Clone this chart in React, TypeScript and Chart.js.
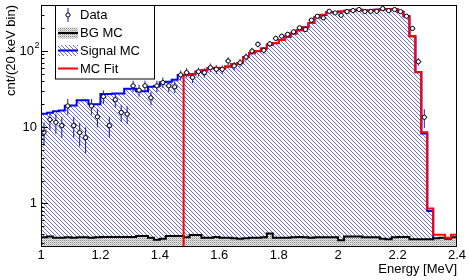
import React, { useEffect, useRef } from "react";
import { Chart, registerables } from "chart.js";

Chart.register(...registerables);

// ---------------- data ----------------
const binLowEdges = [
  1.0, 1.02, 1.04, 1.06, 1.08, 1.1, 1.12, 1.14, 1.16, 1.18,
  1.2, 1.22, 1.24, 1.26, 1.28, 1.3, 1.32, 1.34, 1.36, 1.38,
  1.4, 1.42, 1.44, 1.46, 1.48, 1.5, 1.52, 1.54, 1.56, 1.58,
  1.6, 1.62, 1.64, 1.66, 1.68, 1.7, 1.72, 1.74, 1.76, 1.78,
  1.8, 1.82, 1.84, 1.86, 1.88, 1.9, 1.92, 1.94, 1.96, 1.98,
  2.0, 2.02, 2.04, 2.06, 2.08, 2.1, 2.12, 2.14, 2.16, 2.18,
  2.2, 2.22, 2.24, 2.26, 2.28, 2.3, 2.32, 2.34, 2.36, 2.38,
];
const binWidth = 0.02;
const histUpperEdge = 2.4;

const dataCounts: (number | null)[] = [
  8.6, 12.6, 11.6, 10.5, 19.0, 10.5, 8.5, 7.3, 19.0, 13.7,
  25.2, 10.5, 22.9, 15.6, 14.9, 34.9, 30.6, 34.9, 24.3, 34.9,
  38.5, 34.9, 33.8, 48.5, 52.0, 44.8, 53.5, 52.0, 60.4, 57.5,
  57.5, 73.8, 63.6, 70.2, 83.2, 99.7, 122, 102, 124, 146,
  156, 165, 178, 201, 191, 253, 285, 271, 331, 315,
  293, 328, 338, 349, 328, 331, 331, 359, 338, 349,
  328, 285, 197, 72.3, 13.5, null, null, null, null, null,
];
const dataErrors: (number | null)[] = [
  2.9, 3.5, 3.4, 3.2, 4.4, 3.2, 2.9, 2.7, 4.4, 3.7,
  5.0, 3.2, 4.8, 3.9, 3.9, 5.9, 5.5, 5.9, 4.9, 5.9,
  6.2, 5.9, 5.8, 7.0, 7.2, 6.7, 7.3, 7.2, 7.8, 7.6,
  7.6, 8.6, 8.0, 8.4, 9.1, 10.0, 11.0, 10.1, 11.1, 12.1,
  12.5, 12.8, 13.3, 14.2, 13.8, 15.9, 16.9, 16.5, 18.2, 17.7,
  17.1, 18.1, 18.4, 18.7, 18.1, 18.2, 18.2, 18.9, 18.4, 18.7,
  18.1, 16.9, 14.0, 8.5, 3.7, null, null, null, null, null,
];
const bgMC = [
  0.36, 0.37, 0.355, 0.355, 0.36, 0.355, 0.36, 0.36, 0.355, 0.36,
  0.365, 0.365, 0.365, 0.365, 0.365, 0.365, 0.375, 0.375, 0.355, 0.335,
  0.345, 0.375, 0.375, 0.375, 0.36, 0.385, 0.385, 0.355, 0.355, 0.365,
  0.355, 0.355, 0.35, 0.345, 0.35, 0.355, 0.355, 0.36, 0.405, 0.355,
  0.355, 0.355, 0.36, 0.365, 0.36, 0.355, 0.36, 0.36, 0.36, 0.36,
  0.33, 0.37, 0.37, 0.37, 0.36, 0.36, 0.36, 0.345, 0.34, 0.36,
  0.365, 0.365, 0.34, 0.34, 0.34, 0.34, 0.35, 0.355, 0.345, 0.36,
];
const signalMC = [
  15.0, 15.5, 16.2, 16.5, 19.1, 19.3, 22.5, 22.5, 20.0, 20.0,
  27.3, 27.3, 27.7, 27.7, 32.0, 32.0, 29.5, 29.5, 33.8, 34.8,
  38.8, 39.3, 41.8, 48.5, 48.2, 49.6, 53.5, 55.8, 59.2, 59.8,
  59.2, 62.3, 67.1, 69.2, 82.8, 93.4, 99.3, 107.2, 120.6, 126.2,
  138.6, 153.6, 168.6, 186.6, 204.6, 232.6, 275.6, 296.6, 320.6, 323.6,
  327.6, 335.6, 340.6, 346.6, 337.6, 337.6, 346.6, 351.6, 353.6, 353.6,
  325.6, 284.6, 155.6, 52.6, 8.3, 0.8, 0, 0, 0, 0,
];
const mcFit = [
  0, 0, 0, 0, 0, 0, 0, 0, 0, 0,
  0, 0, 0, 0, 0, 0, 0, 0, 0, 0,
  0, 0, 0, 0, 48.5, 50, 53.9, 56.2, 59.6, 60.2,
  59.6, 62.7, 67.5, 69.6, 83.2, 93.8, 99.7, 107.6, 121, 126.6,
  139, 154, 169, 187, 205, 233, 276, 297, 321, 324,
  328, 336, 341, 347, 338, 338, 347, 352, 354, 354,
  326, 285, 156, 53, 8.6, 0.86, 0.39, 0.39, 0.356, 0.39,
];

const xTickValues = [1, 1.2, 1.4, 1.6, 1.8, 2, 2.2, 2.4];
const xTickLabels = ["1", "1.2", "1.4", "1.6", "1.8", "2", "2.2", "2.4"];
const yTickValues = [1, 10, 100];
const yTickLabels = ["1", "10", "10"];
const yTickExponents = ["", "", "2"];
const legendLabels = ["Data", "BG MC", "Signal MC", "MC Fit"];
const xTitle = "Energy [MeV]";
const yTitle = "cnt/(20 keV bin)";
const yMin = 0.269;
const yMax = 400;

const FONT = '"Liberation Sans", Arial, Helvetica, sans-serif';
const ERR_COLOR = "rgb(40,40,185)";

function makeHatch(): CanvasPattern {
  const c = document.createElement("canvas");
  c.width = 4;
  c.height = 4;
  const g = c.getContext("2d")!;
  g.fillStyle = "#ffffff";
  g.fillRect(0, 0, 4, 4);
  for (let i = 0; i < 4; i++) {
    g.fillStyle = "rgb(105,105,232)";
    g.fillRect(i, i, 1, 1);
  }
  return g.createPattern(c, "repeat")!;
}

function makeDots(): CanvasPattern {
  const c = document.createElement("canvas");
  c.width = 2;
  c.height = 2;
  const g = c.getContext("2d")!;
  g.fillStyle = "#e8e8e8";
  g.fillRect(0, 0, 2, 2);
  g.fillStyle = "#8a8a8a";
  g.fillRect(0, 0, 1, 1);
  g.fillStyle = "#c0c0c0";
  g.fillRect(1, 1, 1, 1);
  return g.createPattern(c, "repeat")!;
}

// histogram contents of 0 sit on the lower edge of the log axis
const onLog = (v: number) => (v > 0 ? v : yMin);

export default function App() {
  const ref = useRef<HTMLCanvasElement>(null);

  useEffect(() => {
    const canvas = ref.current!;
    const hatch = makeHatch();
    const dots = makeDots();

    const step = (vals: number[]) => [
      ...binLowEdges.map((x, i) => ({ x, y: onLog(vals[i]) })),
      { x: histUpperEdge, y: onLog(vals[vals.length - 1]) },
    ];
    const dataPts = binLowEdges.map((x, i) => ({ x: x + binWidth / 2, y: dataCounts[i] }));

    const rootPlugin = {
      id: "rootStyle",
      beforeDatasetDraw(chart: any, args: any) {
        if (args.index !== 0) return;
        const ctx = chart.ctx as CanvasRenderingContext2D;
        const xs = chart.scales.x;
        const ys = chart.scales.y;
        const ca = chart.chartArea;
        ctx.save();
        ctx.beginPath();
        ctx.rect(ca.left, ca.top, ca.right - ca.left, ca.bottom - ca.top);
        ctx.clip();
        ctx.strokeStyle = ERR_COLOR;
        ctx.lineWidth = 1.1;
        ctx.beginPath();
        dataCounts.forEach((v, i) => {
          if (v == null) return;
          const e = dataErrors[i] as number;
          const xc = xs.getPixelForValue(binLowEdges[i] + binWidth / 2);
          const yc = ys.getPixelForValue(v);
          const yt = ys.getPixelForValue(v + e);
          const yb = ys.getPixelForValue(Math.max(v - e, yMin));
          ctx.moveTo(xc, yt);
          ctx.lineTo(xc, yb);
          const xl = xs.getPixelForValue(binLowEdges[i]);
          const xr = xs.getPixelForValue(binLowEdges[i] + binWidth);
          ctx.moveTo(xl, yc);
          ctx.lineTo(xr, yc);
        });
        ctx.stroke();
        ctx.restore();
      },
      afterDatasetsDraw(chart: any) {
        const ctx = chart.ctx as CanvasRenderingContext2D;
        const ys = chart.scales.y;
        const ca = chart.chartArea;
        ctx.save();
        ctx.strokeStyle = "#000";
        ctx.lineWidth = 1;
        ctx.strokeRect(ca.left + 0.5, ca.top + 0.5, ca.right - ca.left - 1, ca.bottom - ca.top - 1);
        ctx.beginPath();
        for (let d = -1; d <= 2; d++) {
          for (let m = 1; m <= 9; m++) {
            const v = m * Math.pow(10, d);
            if (v < yMin || v > yMax) continue;
            const y = Math.round(ys.getPixelForValue(v)) + 0.5;
            const len = m === 1 ? 7 : 3.5;
            ctx.moveTo(ca.left, y);
            ctx.lineTo(ca.left + len, y);
          }
        }
        ctx.stroke();
        ctx.restore();
      },
      afterDraw(chart: any) {
        const ctx = chart.ctx as CanvasRenderingContext2D;
        const xs = chart.scales.x;
        const ys = chart.scales.y;
        const ca = chart.chartArea;
        ctx.save();
        ctx.fillStyle = "#000";
        ctx.font = `13px ${FONT}`;
        ctx.textAlign = "center";
        ctx.textBaseline = "middle";
        xTickValues.forEach((v, i) => {
          ctx.fillText(xTickLabels[i], xs.getPixelForValue(v), 255);
        });
        yTickValues.forEach((v, i) => {
          const y = ys.getPixelForValue(v);
          if (yTickExponents[i]) {
            ctx.font = `13px ${FONT}`;
            ctx.textAlign = "right";
            ctx.fillText(yTickLabels[i], 34, y);
            ctx.font = `9px ${FONT}`;
            ctx.textAlign = "left";
            ctx.fillText(yTickExponents[i], 34.5, y - 5);
          } else {
            ctx.font = `13px ${FONT}`;
            ctx.textAlign = "right";
            ctx.fillText(yTickLabels[i], 37, y);
          }
        });
        ctx.font = `13px ${FONT}`;
        ctx.textAlign = "right";
        ctx.textBaseline = "middle";
        ctx.fillText(xTitle, ca.right, 269);
        ctx.save();
        ctx.translate(11, ca.top);
        ctx.rotate(-Math.PI / 2);
        ctx.textAlign = "right";
        ctx.fillText(yTitle, 0, 0);
        ctx.restore();

        // legend
        const bx = 55.5, by = 5.5, bw = 99, bh = 73.5;
        ctx.fillStyle = "#fff";
        ctx.fillRect(bx, by, bw, bh);
        ctx.strokeStyle = "#000";
        ctx.lineWidth = 1;
        ctx.strokeRect(bx, by, bw, bh);
        const rows = [15, 33, 50.5, 68.5];
        const sx0 = 58, sx1 = 78;
        ctx.strokeStyle = ERR_COLOR;
        ctx.lineWidth = 1.1;
        ctx.beginPath();
        ctx.moveTo(68, rows[0] - 7);
        ctx.lineTo(68, rows[0] + 7);
        ctx.stroke();
        ctx.beginPath();
        ctx.arc(68, rows[0], 2.1, 0, Math.PI * 2);
        ctx.fillStyle = "#fff";
        ctx.fill();
        ctx.strokeStyle = "#000";
        ctx.lineWidth = 1;
        ctx.stroke();
        ctx.fillStyle = dots;
        ctx.fillRect(sx0, rows[1] - 5.5, sx1 - sx0, 11);
        ctx.strokeStyle = "#000";
        ctx.lineWidth = 2;
        ctx.beginPath();
        ctx.moveTo(sx0, rows[1]);
        ctx.lineTo(sx1, rows[1]);
        ctx.stroke();
        ctx.fillStyle = hatch;
        ctx.fillRect(sx0, rows[2] - 5.5, sx1 - sx0, 11);
        ctx.strokeStyle = "#0000ff";
        ctx.beginPath();
        ctx.moveTo(sx0, rows[2]);
        ctx.lineTo(sx1, rows[2]);
        ctx.stroke();
        ctx.strokeStyle = "#ff0000";
        ctx.beginPath();
        ctx.moveTo(sx0, rows[3]);
        ctx.lineTo(sx1, rows[3]);
        ctx.stroke();
        ctx.fillStyle = "#000";
        ctx.font = `13px ${FONT}`;
        ctx.textAlign = "left";
        ctx.textBaseline = "middle";
        legendLabels.forEach((t, i) => ctx.fillText(t, 80, rows[i] + 0.5));
        ctx.restore();
      },
    };

    const chart = new Chart(canvas, {
      type: "line",
      data: {
        datasets: [
          {
            label: legendLabels[0],
            data: dataPts as any,
            showLine: false,
            pointRadius: 2.1,
            pointBackgroundColor: "#ffffff",
            pointBorderColor: "#000000",
            pointBorderWidth: 1,
            order: 1,
          },
          {
            label: legendLabels[3],
            data: step(mcFit),
            stepped: "before",
            borderColor: "#ff0000",
            borderWidth: 2,
            pointRadius: 0,
            fill: false,
            order: 2,
          },
          {
            label: legendLabels[1],
            data: step(bgMC),
            stepped: "before",
            borderColor: "#000000",
            borderWidth: 2,
            pointRadius: 0,
            fill: "start",
            backgroundColor: dots as any,
            order: 3,
          },
          {
            label: legendLabels[2],
            data: step(signalMC),
            stepped: "before",
            borderColor: "#0000ff",
            borderWidth: 2,
            pointRadius: 0,
            fill: "start",
            backgroundColor: hatch as any,
            order: 4,
          },
        ],
      },
      options: {
        animation: false,
        responsive: false,
        events: [],
        layout: { padding: { top: 4, right: 12, left: 0, bottom: 0 } },
        plugins: { legend: { display: false }, tooltip: { enabled: false }, title: { display: false } },
        scales: {
          x: {
            type: "linear",
            min: 1,
            max: 2.4,
            bounds: "data",
            grid: { display: false },
            border: { display: false },
            ticks: { display: false },
            afterFit: (s: any) => {
              s.height = 33;
            },
          },
          y: {
            type: "logarithmic",
            min: yMin,
            max: yMax,
            bounds: "data",
            grid: { display: false },
            border: { display: false },
            ticks: { display: false },
            afterFit: (s: any) => {
              s.width = 41;
            },
          },
        },
      },
      plugins: [rootPlugin],
    } as any);

    return () => chart.destroy();
  }, []);

  return (
    <div style={{ position: "absolute", left: 0, top: 0, width: 469, height: 280, background: "#fff" }}>
      <canvas ref={ref} width={469} height={280} style={{ width: 469, height: 280, display: "block" }} />
    </div>
  );
}
